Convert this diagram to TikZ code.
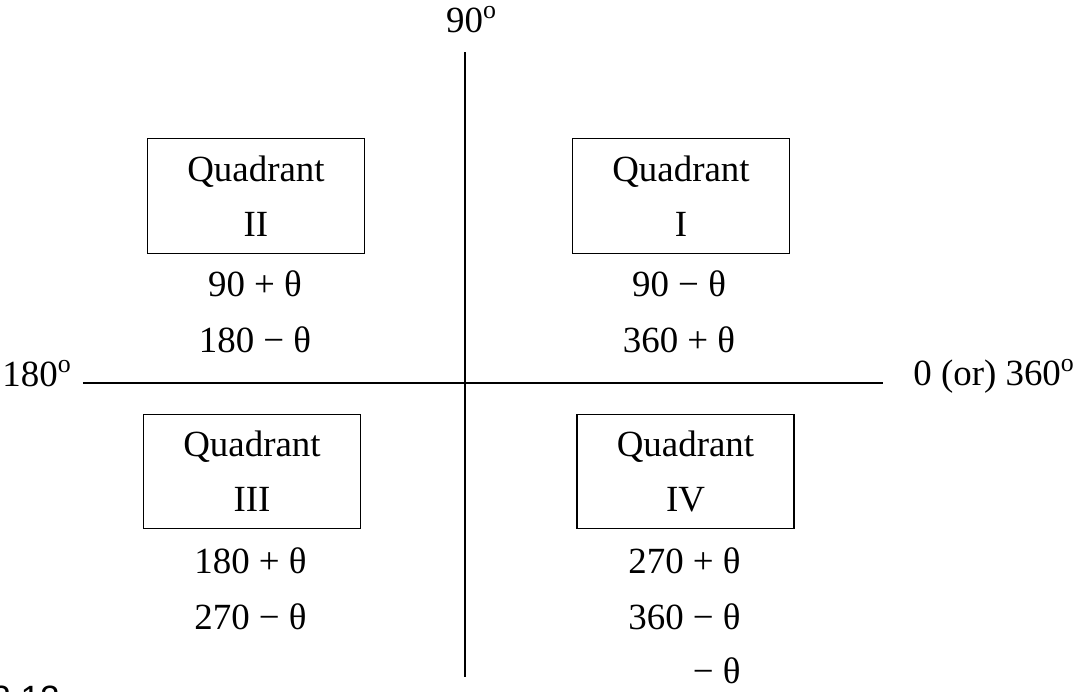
\documentclass[tikz,border=0pt]{standalone}
\usepackage{fontspec}
\setmainfont{Liberation Serif}
\newfontfamily\capfont{Liberation Sans}
\usetikzlibrary{positioning}

\begin{document}
\begin{tikzpicture}[
  quad/.style={
    rectangle, draw, line width=0.8pt, minimum width=4.34cm, minimum height=2.29cm,
    align=center, inner sep=0pt, font=\fontsize{21}{31.3}\selectfont
  },
  expr/.style={anchor=base, inner sep=0pt, font=\fontsize{21}{25}\selectfont},
  axlabel/.style={inner sep=0pt, font=\fontsize{21}{25}\selectfont},
  axis/.style={line width=1.1pt}
]
\useasboundingbox (-9.30,-6.16) rectangle (12.38,7.66);

% ==================== AXES ====================
\coordinate (ntop) at (0,6.62);
\coordinate (sbot) at (0,-5.88);
\coordinate (west) at (-7.64,0);
\coordinate (east) at (8.36,0);
\draw[axis] (ntop) -- (sbot);
\draw[axis] (west) -- (east);

\node[axlabel, above=0.40cm of ntop, anchor=base, xshift=0.13cm] (lab90) {90\textsuperscript{o}};
\node[axlabel, anchor=base east] (lab180) at ([xshift=-0.22cm, yshift=-0.06cm]west) {180\textsuperscript{o}};
\node[axlabel, anchor=base west] (lab0) at ([xshift=0.60cm, yshift=-0.04cm]east) {0 (or) 360\textsuperscript{o}};

% ==================== QUADRANTS ====================
\node[quad] (q2) at (-4.18, 3.74) {Quadrant\\II};
\node[quad] (q1) at (4.32, 3.74) {Quadrant\\I};
\node[quad] (q3) at (-4.26, -1.77) {Quadrant\\III};
\node[quad] (q4) at (4.41, -1.77) {Quadrant\\IV};

% ==================== ANGLES ====================
\node[expr] (q2a) at (-4.20, 1.74) {90 + θ};
\node[expr] (q2b) at (-4.20, 0.62) {180 − θ};
\node[expr] (q1a) at (4.28, 1.74) {90 − θ};
\node[expr] (q1b) at (4.28, 0.62) {360 + θ};
\node[expr] (q3a) at (-4.29, -3.80) {180 + θ};
\node[expr] (q3b) at (-4.29, -4.92) {270 − θ};
\node[expr] (q4a) at (4.39, -3.80) {270 + θ};
\node[expr] (q4b) at (4.39, -4.92) {360 − θ};
\node[expr, anchor=base east] (q4c) at ([yshift=-1.08cm]q4b.base east) {− θ};

% caption fragment
\node[anchor=base west, inner sep=0pt, font=\capfont\fontsize{20}{24}\selectfont] (fignum) at (-9.48,-6.54) {2.12};
\end{tikzpicture}
\end{document}
